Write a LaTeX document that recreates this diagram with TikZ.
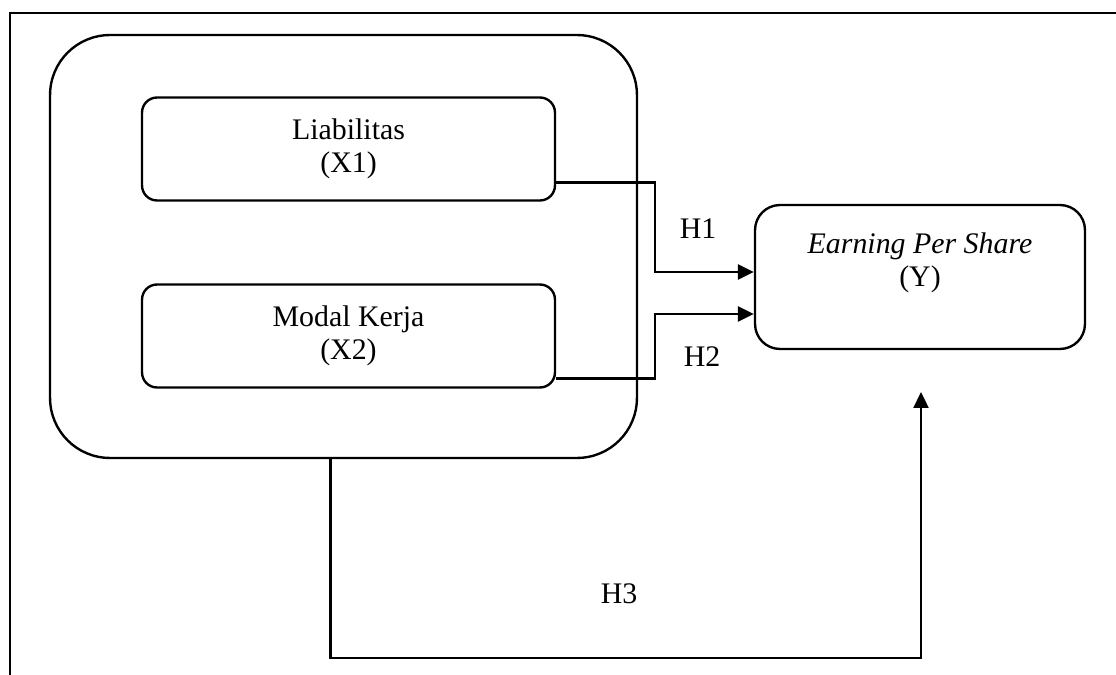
\documentclass[tikz,border=0pt]{standalone}
\usepackage{fontspec}
\setmainfont{Liberation Serif}
\usetikzlibrary{arrows.meta,calc}
\begin{document}
\fontsize{17}{18.8}\selectfont
\begin{tikzpicture}[x=0.02cm,y=-0.02cm,line width=1.35pt,
    varbox/.style={draw=black,rounded corners=0.3cm,minimum width=8.26cm,minimum height=2.06cm,align=center},
    arr/.style={-{Triangle[length=0.32cm,width=0.3cm]}}]
            \useasboundingbox (0,0) rectangle (1116,675);
            \draw (10,675) -- (10,13) -- (1116,13);

            \node[draw=black,rounded corners=1.2cm,minimum width=11.74cm,minimum height=8.46cm] (grp) at (343.5,246.5) {};
            \node[varbox] (lia) at (348.5,149) {Liabilitas\\(X1)};
            \node[varbox] (mod) at (348.5,336) {Modal Kerja\\(X2)};
            \node[draw=black,rounded corners=0.5cm,minimum width=6.6cm,minimum height=2.88cm] (eps) at (920,277) {};
            \node[align=center] (epstext) at (920,263) {\textit{Earning Per Share}\\(Y)};

            \coordinate (h3end) at (921,392);

            \draw[arr] ([yshift=0.38cm]lia.south east) -- ++(99,0) |- ([yshift=0.1cm]eps.west);
            \draw[arr] ([yshift=0.2cm]mod.south east) -- ++(99,0) |- ([yshift=-0.74cm]eps.west);
            \draw[arr] ([xshift=-0.26cm]grp.south) -- ++(0,199) -| (h3end);

            \node (h1) at (698,229) {H1};
            \node (h2) at (702,357) {H2};
            \node (h3) at (619,594) {H3};
        \end{tikzpicture}
\end{document}
